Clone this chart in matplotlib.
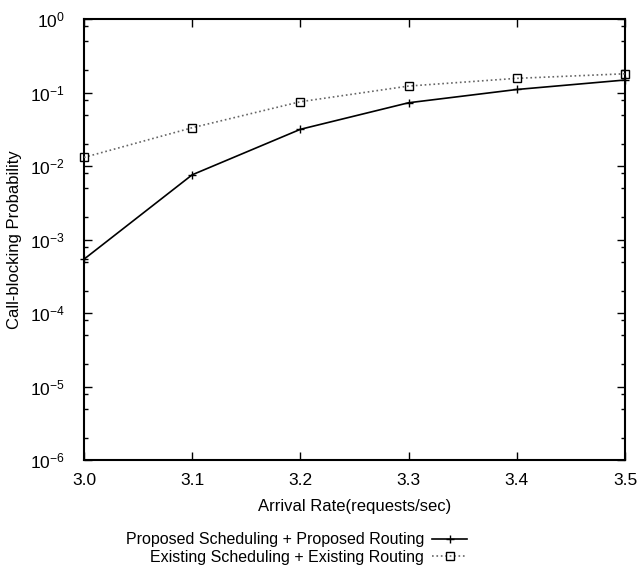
import matplotlib
matplotlib.use('Agg')
from matplotlib import pyplot as plt
from matplotlib.ticker import LogLocator, NullFormatter

plt.rcParams['font.family'] = ['Liberation Sans', 'DejaVu Sans']
plt.rcParams['mathtext.default'] = 'regular'

arrival_rate = [3.0, 3.1, 3.2, 3.3, 3.4, 3.5]
proposed = [5.4e-4, 7.6e-3, 0.0316, 0.0726, 0.110, 0.148]
existing = [0.0131, 0.0332, 0.075, 0.1225, 0.156, 0.180]

label_proposed = 'Proposed Scheduling + Proposed Routing'
label_existing = 'Existing Scheduling + Existing Routing'

fig = plt.figure(figsize=(6.42, 5.68), dpi=100)
axes = fig.add_axes([0.1308, 0.190, 0.8427, 0.7765])

axes.plot(arrival_rate, proposed, color='black', linestyle='-', linewidth=1.2,
          marker='+', markersize=6, markeredgewidth=1.0, label=label_proposed,
          clip_on=False, zorder=3)
axes.plot(arrival_rate, existing, color='0.4', linestyle=':', linewidth=1.2,
          marker='s', markersize=6, markerfacecolor='none',
          markeredgecolor='black', markeredgewidth=1.0, label=label_existing,
          clip_on=False, zorder=3)

axes.set_yscale('log')
axes.set_xlim(3.0, 3.5)
axes.set_ylim(1e-6, 1)
axes.set_xticks(arrival_rate)
axes.set_xticklabels(['%.1f' % x for x in arrival_rate])
axes.yaxis.set_major_locator(LogLocator(base=10, numticks=10))
axes.yaxis.set_minor_locator(LogLocator(base=10, subs=[2, 5, 8], numticks=10))
axes.yaxis.set_minor_formatter(NullFormatter())

axes.tick_params(which='both', direction='in', top=True, right=True,
                 labelsize=12.5, width=1.0)
axes.tick_params(which='major', length=6)
axes.tick_params(axis='x', which='major', pad=9)
axes.tick_params(axis='y', which='major', pad=14)
axes.tick_params(which='minor', length=3)
for s in axes.spines.values():
    s.set_linewidth(1.5)

axes.set_xlabel('Arrival Rate(requests/sec)', fontsize=12, labelpad=8)
axes.set_ylabel('Call-blocking Probability', fontsize=12)
axes.yaxis.set_label_coords(-0.114, 0.5)

leg = fig.legend(loc='upper right', bbox_to_anchor=(0.7375, 0.074),
                 frameon=False, markerfirst=False, fontsize=11.5,
                 handlelength=2.2, handletextpad=0.5, labelspacing=0.15,
                 borderaxespad=0.0)
for t in leg.get_texts():
    t.set_ha('right')

fig.savefig('out.png', dpi=100)
